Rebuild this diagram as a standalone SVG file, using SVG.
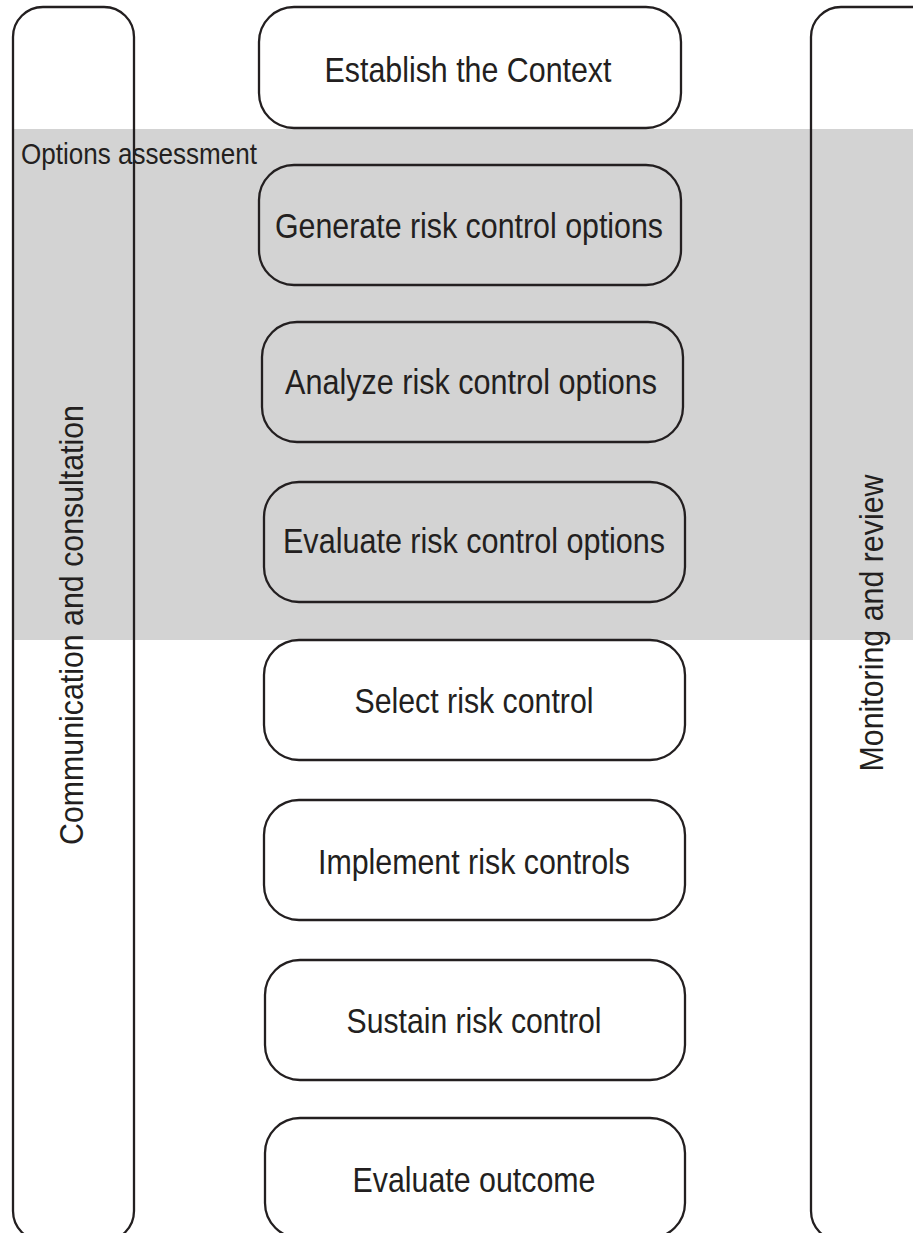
<svg xmlns="http://www.w3.org/2000/svg" width="913" height="1233" viewBox="0 0 913 1233">
<style>
.box{fill:none;stroke:#231f20;stroke-width:2.3}
.t{font-family:"Liberation Sans",Arial,sans-serif;font-size:35px;fill:#231f20;text-anchor:middle}
.v{font-family:"Liberation Sans",Arial,sans-serif;font-size:34px;fill:#231f20;text-anchor:middle}
.lbl{font-family:"Liberation Sans",Arial,sans-serif;font-size:29px;fill:#231f20}
</style>
<rect x="0" y="0" width="913" height="1233" fill="#ffffff"/>
<g id="options-assessment">
<rect x="13" y="129" width="900" height="511" fill="#d3d3d3"/>
<text class="lbl" x="21" y="164" textLength="236" lengthAdjust="spacingAndGlyphs">Options assessment</text>
</g>
<g id="communication">
<rect class="box" x="13" y="7" width="121" height="1234" rx="30" ry="30"/>
<text class="v" transform="translate(83,625) rotate(-90)" textLength="440" lengthAdjust="spacingAndGlyphs">Communication and consultation</text>
</g>
<g id="monitoring">
<rect class="box" x="811" y="7" width="140" height="1234" rx="30" ry="30"/>
<text class="v" transform="translate(883,623) rotate(-90)" textLength="297" lengthAdjust="spacingAndGlyphs">Monitoring and review</text>
</g>
<g id="establish">
<rect class="box" x="259" y="7" width="422" height="121" rx="35" ry="35"/>
<text class="t" x="468" y="82" textLength="287" lengthAdjust="spacingAndGlyphs">Establish the Context</text>
</g>
<g id="generate">
<rect class="box" x="259" y="165" width="422" height="120" rx="35" ry="35"/>
<text class="t" x="469" y="238" textLength="388" lengthAdjust="spacingAndGlyphs">Generate risk control options</text>
</g>
<g id="analyze">
<rect class="box" x="262" y="322" width="421" height="120" rx="35" ry="35"/>
<text class="t" x="471" y="394" textLength="372" lengthAdjust="spacingAndGlyphs">Analyze risk control options</text>
</g>
<g id="evaluate-options">
<rect class="box" x="264" y="482" width="421" height="120" rx="35" ry="35"/>
<text class="t" x="474" y="553" textLength="382" lengthAdjust="spacingAndGlyphs">Evaluate risk control options</text>
</g>
<g id="select">
<rect class="box" x="264" y="640" width="421" height="120" rx="35" ry="35"/>
<text class="t" x="474" y="713" textLength="239" lengthAdjust="spacingAndGlyphs">Select risk control</text>
</g>
<g id="implement">
<rect class="box" x="264" y="800" width="421" height="120" rx="35" ry="35"/>
<text class="t" x="474" y="874" textLength="312" lengthAdjust="spacingAndGlyphs">Implement risk controls</text>
</g>
<g id="sustain">
<rect class="box" x="265" y="960" width="420" height="120" rx="35" ry="35"/>
<text class="t" x="474" y="1033" textLength="255" lengthAdjust="spacingAndGlyphs">Sustain risk control</text>
</g>
<g id="evaluate-outcome">
<rect class="box" x="265" y="1118" width="420" height="120" rx="35" ry="35"/>
<text class="t" x="474" y="1192" textLength="243" lengthAdjust="spacingAndGlyphs">Evaluate outcome</text>
</g>
<g id="connectors"></g>
</svg>
